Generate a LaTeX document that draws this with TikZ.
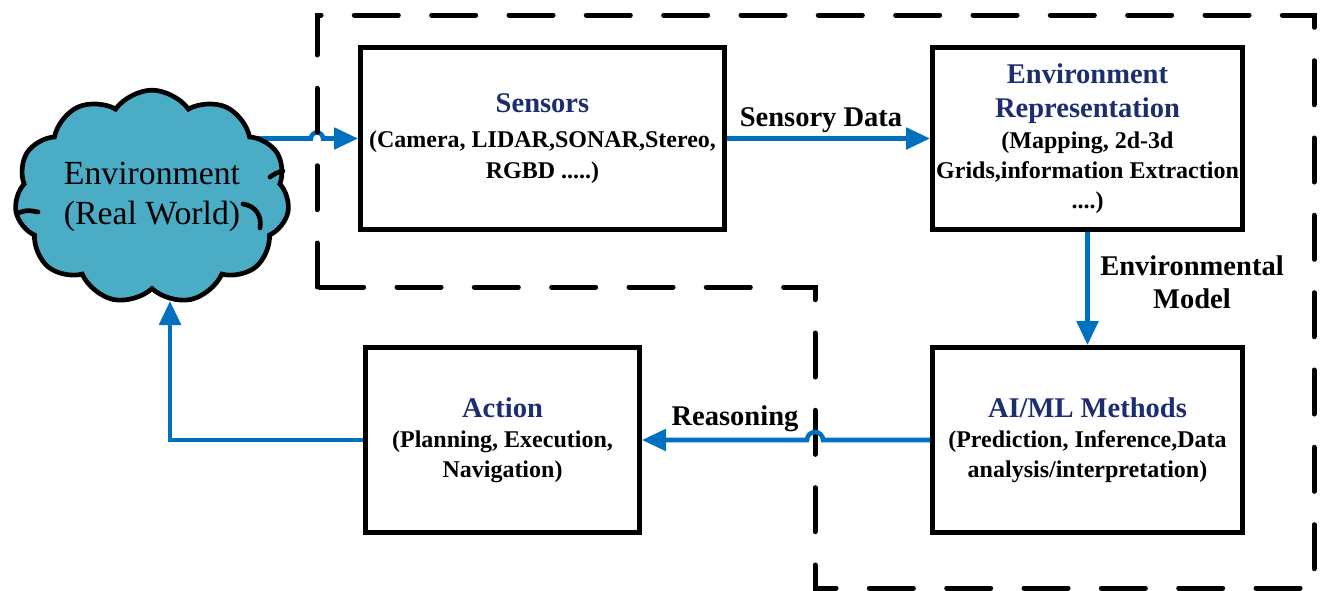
\documentclass[tikz,border=0pt]{standalone}
\usepackage{fontspec}
\setmainfont{Liberation Serif}
\usetikzlibrary{shapes.symbols,arrows.meta}
\definecolor{navy}{RGB}{28,46,112}
\definecolor{arrowblue}{RGB}{0,112,192}
\definecolor{cloudfill}{RGB}{75,172,198}
\pgfdeclarelayer{bg}
\pgfsetlayers{bg,main}
\newcommand\ttlfont{\color{navy}\bfseries\fontsize{21.4}{25}\selectfont}
\begin{document}
\begin{tikzpicture}[x=0.75pt,y=-0.75pt,
  box/.style={draw,line width=3.75pt,fill=white,align=center,inner sep=0pt,
    font=\bfseries\fontsize{18}{22.5}\selectfont},
  lbl/.style={font=\bfseries\fontsize{21.4}{25}\selectfont,align=center,inner sep=0pt},
  arr/.style={draw=arrowblue,line width=3.4pt,-{Triangle[length=18pt,width=16pt]}},
  boundary/.style={line width=3.75pt,dash pattern=on 33pt off 25pt,line cap=round},
  puffline/.style={line width=3.5pt,line cap=round}]
\useasboundingbox (0,0) rectangle (1321,590);

% dashed boundary
\draw[boundary] (317,287) -- (317,15) -- (1314,15) -- (1314,588) -- (815,588) -- (815,287) -- cycle;

% cloud
\node[cloud,draw,line width=3.5pt,fill=cloudfill,cloud puffs=11,cloud puff arc=110,aspect=1.35,
  minimum width=206pt,minimum height=154pt,inner sep=0pt,align=center,
  font=\fontsize{25.3}{30}\selectfont] (cloud) at (152,197) {Environment\\(Real World)};
% inner strokes of the cloud
\draw[puffline] (18,213) .. controls (27,210) .. (38,212);
\draw[puffline] (270,177) .. controls (276,173) .. (283,171);
\draw[puffline] (243,204) .. controls (256,206) and (262,216) .. (260,228);

% boxes
\node[box,minimum width=273pt,minimum height=136.5pt] (sensors) at (542.5,138.5)
  {{\ttlfont Sensors}\\[4pt](Camera, LIDAR,SONAR,Stereo,\\[1pt]RGBD .....)};
\node[box,minimum width=232.5pt,minimum height=136.5pt] (envrep) at (1087.5,138.5)
  {{\ttlfont Environment}\\[3pt]{\ttlfont Representation}\\[1pt](Mapping, 2d-3d\\Grids,information Extraction\\....)};
\node[box,minimum width=232.5pt,minimum height=138.75pt] (aiml) at (1087.5,440)
  {{\ttlfont AI/ML Methods}\\(Prediction, Inference,Data\\analysis/interpretation)};
\node[box,minimum width=205.5pt,minimum height=138.75pt] (action) at (502.5,440)
  {{\ttlfont Action}\\(Planning, Execution,\\Navigation)};

% labels
\node[lbl] (sdata) at (821,120) {Sensory Data};
\node[lbl] (emodel) at (1192,282) {Environmental\\Model};
\node[lbl] (reason) at (735,419) {Reasoning};

% connectors
\coordinate (hop1) at (317,138.5);
\coordinate (hop2) at (815,440);
\coordinate (cloudin) at (170,301);
\begin{pgfonlayer}{bg}
\draw[arr] (cloud.center |- sensors.west) -- ([xshift=-4.5pt]hop1)
  arc[start angle=180,end angle=0,radius=4.5pt] -- (sensors.west);
\end{pgfonlayer}
\draw[arr] (sensors.east) -- (envrep.west);
\draw[arr] (envrep.south) -- (aiml.north);
\draw[arr] (aiml.west) -- ([xshift=6pt]hop2)
  arc[start angle=0,end angle=180,radius=6pt] -- (action.east);
\draw[arr] (action.west) -| (cloudin);
\end{tikzpicture}
\end{document}
